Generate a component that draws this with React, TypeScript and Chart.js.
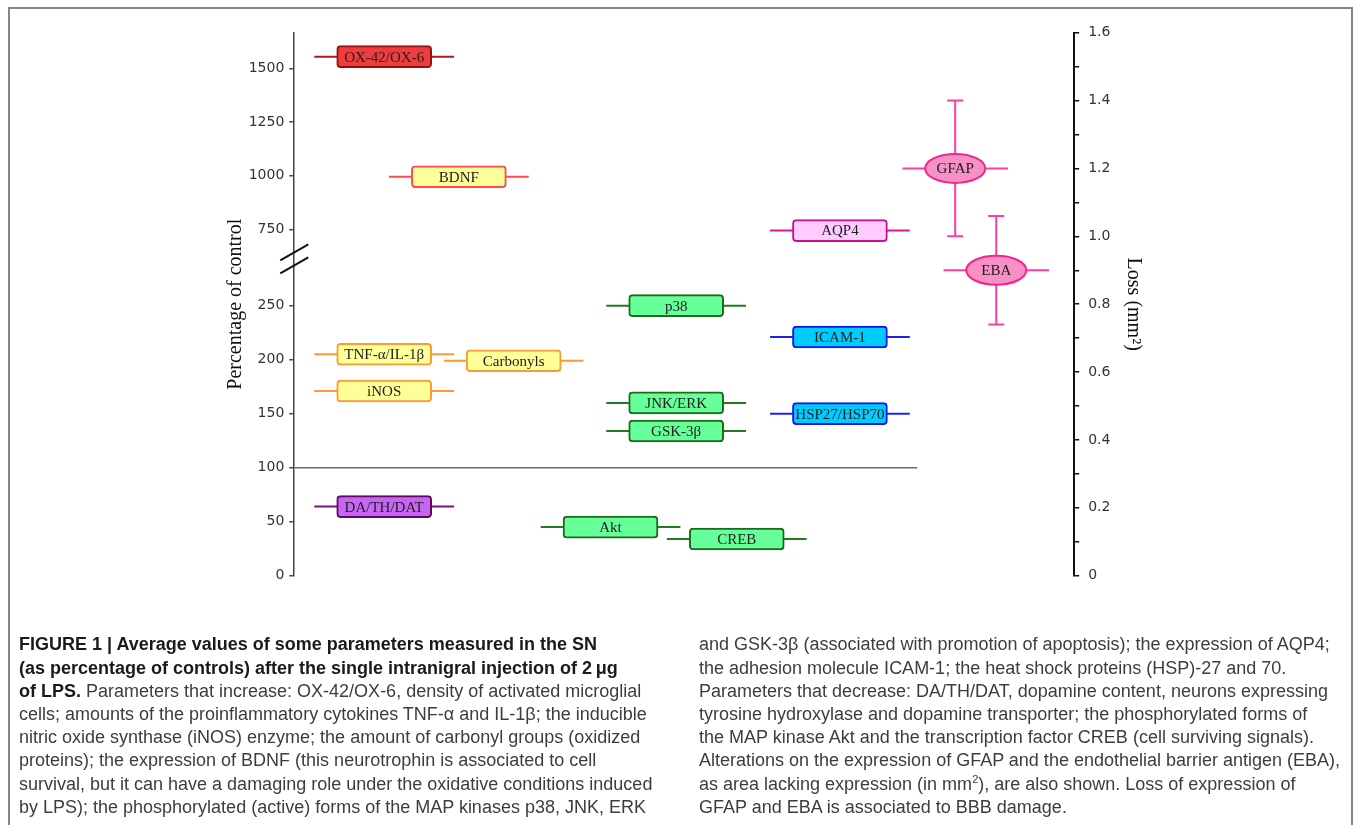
import React, { useEffect, useRef } from 'react';
import { Chart, registerables, LinearScale } from 'chart.js';

// ---------------- data ----------------
const ITEMS = ['OX-42/OX-6', 'BDNF', 'TNF-α/IL-1β', 'Carbonyls', 'iNOS', 'DA/TH/DAT', 'Akt', 'p38', 'JNK/ERK', 'GSK-3β', 'CREB', 'AQP4', 'ICAM-1', 'HSP27/HSP70'];
const PERCENT_OF_CONTROL = [1555, 995, 205, 199, 171, 64, 45, 250, 160, 134, 34, 744, 221, 150];
const ITEM_GROUP = ['microglia', 'neurotrophin', 'inflammation', 'inflammation', 'inflammation', 'dopamine', 'signalling', 'signalling', 'signalling', 'signalling', 'signalling', 'water', 'vascular', 'vascular'];
const ITEM_SLOT = [11.64, 21.2, 11.64, 28.22, 11.64, 11.64, 40.62, 49.03, 49.03, 49.03, 56.79, 70.0, 70.0, 70.0];

const AREA_ITEMS = ['GFAP', 'EBA'];
const AREA_LOSS_MM2 = [1.2, 0.9];
const AREA_ERROR_MM2 = [0.2, 0.16];
const AREA_SLOT = [84.76, 90.02];

const CONTROL_LEVEL = 100;
const LEFT_TICKS = [0, 50, 100, 150, 200, 250, 750, 1000, 1250, 1500];
const RIGHT_TICKS = [0, 0.1, 0.2, 0.3, 0.4, 0.5, 0.6, 0.7, 0.8, 0.9, 1.0, 1.1, 1.2, 1.3, 1.4, 1.5, 1.6];
const RIGHT_TICK_LABELS = ['0', '', '0.2', '', '0.4', '', '0.6', '', '0.8', '', '1.0', '', '1.2', '', '1.4', '', '1.6'];

// ---------------- styles ----------------
const GROUP_STYLE: Record<string, { fill: string; edge: string; whisker: string }> = {
  microglia: { fill: '#EF3D3D', edge: '#9A1010', whisker: '#A81C1C' },
  neurotrophin: { fill: '#FFFF99', edge: '#FF4A4A', whisker: '#FF4A4A' },
  inflammation: { fill: '#FFFF99', edge: '#FF9A2E', whisker: '#FF9A2E' },
  dopamine: { fill: '#C865F5', edge: '#5E0A5E', whisker: '#7A127A' },
  signalling: { fill: '#66FF99', edge: '#1B6B1B', whisker: '#237A23' },
  water: { fill: '#FFCCFF', edge: '#C8108F', whisker: '#E0159A' },
  vascular: { fill: '#00CCFF', edge: '#1515F0', whisker: '#2020F5' },
};
const AREA_STYLE = { fill: '#F790C4', edge: '#F2258C', line: '#FF3D9E' };
const BOX_HALF = 6.08;
const WHISKER_HALF = 8.95;
const AREA_WHISKER_HALF = 6.75;
const CONTROL_LINE_END = 79.9;
const AXIS_TOP = 10.055;

// broken left axis: 0-250 on the lower part, 750-1500 compressed on the upper part
function toAxis(v: number) {
  return v <= 500 ? v / 50 : 6.415 + (v - 750) / 251.9;
}
function fromAxis(u: number) {
  return u <= 5.7 ? u * 50 : 750 + (u - 6.415) * 251.9;
}

class BrokenLinearScale extends LinearScale {
  static id = 'brokenLinear';
  static defaults = LinearScale.defaults;
  getPixelForValue(value: number) {
    return super.getPixelForValue(toAxis(value));
  }
  getValueForPixel(pixel: number) {
    return fromAxis(super.getValueForPixel(pixel) as number);
  }
}

Chart.register(...registerables, BrokenLinearScale as any);

const SERIF = '"Liberation Serif", "Times New Roman", serif';
const SANS = '"DejaVu Sans", Verdana, sans-serif';

const labelPlugin = {
  id: 'itemLabels',
  afterDatasetsDraw(chart: any) {
    const { ctx, scales } = chart;
    const x = scales.x, y = scales.y, y2 = scales.y2;
    ctx.save();
    AREA_ITEMS.forEach((name, i) => {
      const cx = x.getPixelForValue(AREA_SLOT[i]);
      const cy = y2.getPixelForValue(AREA_LOSS_MM2[i]);
      ctx.beginPath();
      ctx.ellipse(cx, cy, 30, 14.5, 0, 0, Math.PI * 2);
      ctx.fillStyle = AREA_STYLE.fill;
      ctx.fill();
      ctx.lineWidth = 2;
      ctx.strokeStyle = AREA_STYLE.edge;
      ctx.stroke();
    });
    ctx.font = '15px ' + SERIF;
    ctx.textAlign = 'center';
    ctx.textBaseline = 'middle';
    ctx.fillStyle = '#222';
    ITEMS.forEach((name, i) => {
      ctx.fillText(name, x.getPixelForValue(ITEM_SLOT[i]), y.getPixelForValue(PERCENT_OF_CONTROL[i]) + 1);
    });
    AREA_ITEMS.forEach((name, i) => {
      ctx.fillText(name, x.getPixelForValue(AREA_SLOT[i]), y2.getPixelForValue(AREA_LOSS_MM2[i]) + 1);
    });
    // axis break marks
    const ax = y.right;
    const yb = y.getPixelForValue(750);
    ctx.strokeStyle = '#111';
    ctx.lineWidth = 2;
    ctx.beginPath();
    ctx.moveTo(ax - 13, yb + 31);
    ctx.lineTo(ax + 15, yb + 15);
    ctx.moveTo(ax - 13, yb + 44);
    ctx.lineTo(ax + 15, yb + 28);
    ctx.stroke();
    ctx.restore();
  },
};

const CAPTION_LEFT: { t: string; b?: boolean }[][] = [
  [{ t: 'FIGURE 1 | Average values of some parameters measured in the SN', b: true }],
  [{ t: '(as percentage of controls) after the single intranigral injection of 2\u2009μg', b: true }],
  [{ t: 'of LPS.', b: true }, { t: ' Parameters that increase: OX-42/OX-6, density of activated microglial' }],
  [{ t: 'cells; amounts of the proinflammatory cytokines TNF-α and IL-1β; the inducible' }],
  [{ t: 'nitric oxide synthase (iNOS) enzyme; the amount of carbonyl groups (oxidized' }],
  [{ t: 'proteins); the expression of BDNF (this neurotrophin is associated to cell' }],
  [{ t: 'survival, but it can have a damaging role under the oxidative conditions induced' }],
  [{ t: 'by LPS); the phosphorylated (active) forms of the MAP kinases p38, JNK, ERK' }],
];
const CAPTION_RIGHT: string[] = [
  'and GSK-3β (associated with promotion of apoptosis); the expression of AQP4;',
  'the adhesion molecule ICAM-1; the heat shock proteins (HSP)-27 and 70.',
  'Parameters that decrease: DA/TH/DAT, dopamine content, neurons expressing',
  'tyrosine hydroxylase and dopamine transporter; the phosphorylated forms of',
  'the MAP kinase Akt and the transcription factor CREB (cell surviving signals).',
  'Alterations on the expression of GFAP and the endothelial barrier antigen (EBA),',
  'as area lacking expression (in mm|2|), are also shown. Loss of expression of',
  'GFAP and EBA is associated to BBB damage.',
];

const LINE_H = 23.2;
const FIRST_TOP = 633.4;

function CaptionLine({ left, index, children }: { left: number; index: number; children: React.ReactNode }) {
  return (
    <div
      style={{
        position: 'fixed',
        left,
        top: FIRST_TOP + index * LINE_H,
        whiteSpace: 'nowrap',
        fontFamily: '"Liberation Sans", Arial, sans-serif',
        fontSize: 18,
        lineHeight: LINE_H + 'px',
        color: '#3d3d3d',
      }}
    >
      {children}
    </div>
  );
}

export default function App() {
  const canvasRef = useRef<HTMLCanvasElement>(null);

  useEffect(() => {
    const datasets: any[] = [];
    datasets.push({
      type: 'bar',
      indexAxis: 'y',
      data: ITEMS.map((_, i) => ({ x: [ITEM_SLOT[i] - BOX_HALF, ITEM_SLOT[i] + BOX_HALF], y: PERCENT_OF_CONTROL[i] })),
      backgroundColor: ITEM_GROUP.map((g) => GROUP_STYLE[g].fill),
      borderColor: ITEM_GROUP.map((g) => GROUP_STYLE[g].edge),
      borderWidth: 2,
      borderRadius: 4,
      borderSkipped: false,
      barThickness: 22,
      xAxisID: 'x',
      yAxisID: 'y',
      order: 0,
    });
    ITEMS.forEach((_, i) => {
      datasets.push({
        type: 'scatter',
        showLine: true,
        data: [
          { x: ITEM_SLOT[i] - WHISKER_HALF, y: PERCENT_OF_CONTROL[i] },
          { x: ITEM_SLOT[i] + WHISKER_HALF, y: PERCENT_OF_CONTROL[i] },
        ],
        borderColor: GROUP_STYLE[ITEM_GROUP[i]].whisker,
        borderWidth: 2,
        pointRadius: 0,
        xAxisID: 'x',
        yAxisID: 'y',
        order: 1,
      });
    });
    AREA_ITEMS.forEach((_, i) => {
      datasets.push({
        type: 'scatter',
        showLine: true,
        data: [
          { x: AREA_SLOT[i] - AREA_WHISKER_HALF, y: AREA_LOSS_MM2[i] },
          { x: AREA_SLOT[i] + AREA_WHISKER_HALF, y: AREA_LOSS_MM2[i] },
        ],
        borderColor: AREA_STYLE.line,
        borderWidth: 2,
        pointRadius: 0,
        xAxisID: 'x',
        yAxisID: 'y2',
        order: 1,
      });
      datasets.push({
        type: 'scatter',
        showLine: true,
        data: [
          { x: AREA_SLOT[i], y: AREA_LOSS_MM2[i] - AREA_ERROR_MM2[i] },
          { x: AREA_SLOT[i], y: AREA_LOSS_MM2[i] + AREA_ERROR_MM2[i] },
        ],
        borderColor: AREA_STYLE.line,
        borderWidth: 2,
        pointStyle: 'line',
        pointRadius: 8,
        pointBorderWidth: 2,
        pointBorderColor: AREA_STYLE.line,
        xAxisID: 'x',
        yAxisID: 'y2',
        order: 1,
      });
    });
    datasets.push({
      type: 'scatter',
      showLine: true,
      data: [
        { x: 0, y: CONTROL_LEVEL },
        { x: CONTROL_LINE_END, y: CONTROL_LEVEL },
      ],
      borderColor: '#6b6b6b',
      borderWidth: 1.5,
      pointRadius: 0,
      xAxisID: 'x',
      yAxisID: 'y',
      order: 2,
    });

    const chart = new Chart(canvasRef.current as HTMLCanvasElement, {
      type: 'scatter',
      data: { datasets },
      options: {
        responsive: false,
        animation: false,
        events: [],
        layout: { padding: { left: 213.8, right: 205, top: 23.7, bottom: 23.3 } },
        plugins: { legend: { display: false }, tooltip: { enabled: false } },
        scales: {
          x: { type: 'linear', min: 0, max: 100, display: false, offset: false, beginAtZero: false },
          y: {
            type: 'brokenLinear',
            position: 'left',
            min: 0,
            max: AXIS_TOP,
            offset: false,
            afterBuildTicks: (s: any) => {
              s.ticks = LEFT_TICKS.map((value) => ({ value }));
            },
            afterFit: (s: any) => {
              s.width = 69.5;
            },
            ticks: {
              autoSkip: false,
              callback: (v: any) => String(v),
              font: { family: SANS, size: 14 },
              color: '#333',
              padding: 5,
            },
            grid: { offset: false, drawOnChartArea: false, drawTicks: true, tickLength: 4, color: '#444', lineWidth: 1.5 },
            border: { display: true, color: '#444', width: 1.5 },
            title: { display: true, text: 'Percentage of control', font: { family: SERIF, size: 20 }, color: '#111', padding: 0 },
          } as any,
          y2: {
            type: 'linear',
            position: 'right',
            min: 0,
            max: 1.6,
            offset: false,
            afterBuildTicks: (s: any) => {
              s.ticks = RIGHT_TICKS.map((value) => ({ value }));
            },
            afterFit: (s: any) => {
              s.width = 70.8;
            },
            ticks: {
              autoSkip: false,
              callback: (_v: any, i: number) => RIGHT_TICK_LABELS[i],
              font: { family: SANS, size: 14 },
              color: '#333',
              padding: 9,
            },
            grid: { offset: false, drawOnChartArea: false, drawTicks: true, tickLength: 5, color: '#111', lineWidth: 1.5 },
            border: { display: true, color: '#111', width: 2 },
            title: { display: true, text: 'Loss (mm²)', font: { family: SERIF, size: 20 }, color: '#111', padding: 0 },
          },
        },
      } as any,
      plugins: [labelPlugin],
    });
    return () => chart.destroy();
  }, []);

  return (
    <div>
      <div
        style={{
          position: 'fixed',
          left: 8,
          top: 7,
          width: 1345,
          height: 840,
          border: '2px solid #858585',
          borderBottom: 'none',
          boxSizing: 'border-box',
        }}
      />
      <canvas
        ref={canvasRef}
        width={1340}
        height={590}
        style={{ position: 'fixed', left: 10, top: 9, width: 1340, height: 590 }}
      />
      {CAPTION_LEFT.map((segs, i) => (
        <CaptionLine key={'l' + i} left={19} index={i}>
          {segs.map((s, j) =>
            s.b ? (
              <b key={j} style={{ color: '#1a1a1a' }}>
                {s.t}
              </b>
            ) : (
              <span key={j}>{s.t}</span>
            )
          )}
        </CaptionLine>
      ))}
      {CAPTION_RIGHT.map((line, i) => {
        const parts = line.split('|');
        return (
          <CaptionLine key={'r' + i} left={699} index={i}>
            {parts.map((p, j) =>
              j % 2 === 1 ? (
                <sup key={j} style={{ fontSize: 11, lineHeight: 0 }}>
                  {p}
                </sup>
              ) : (
                <span key={j}>{p}</span>
              )
            )}
          </CaptionLine>
        );
      })}
    </div>
  );
}
